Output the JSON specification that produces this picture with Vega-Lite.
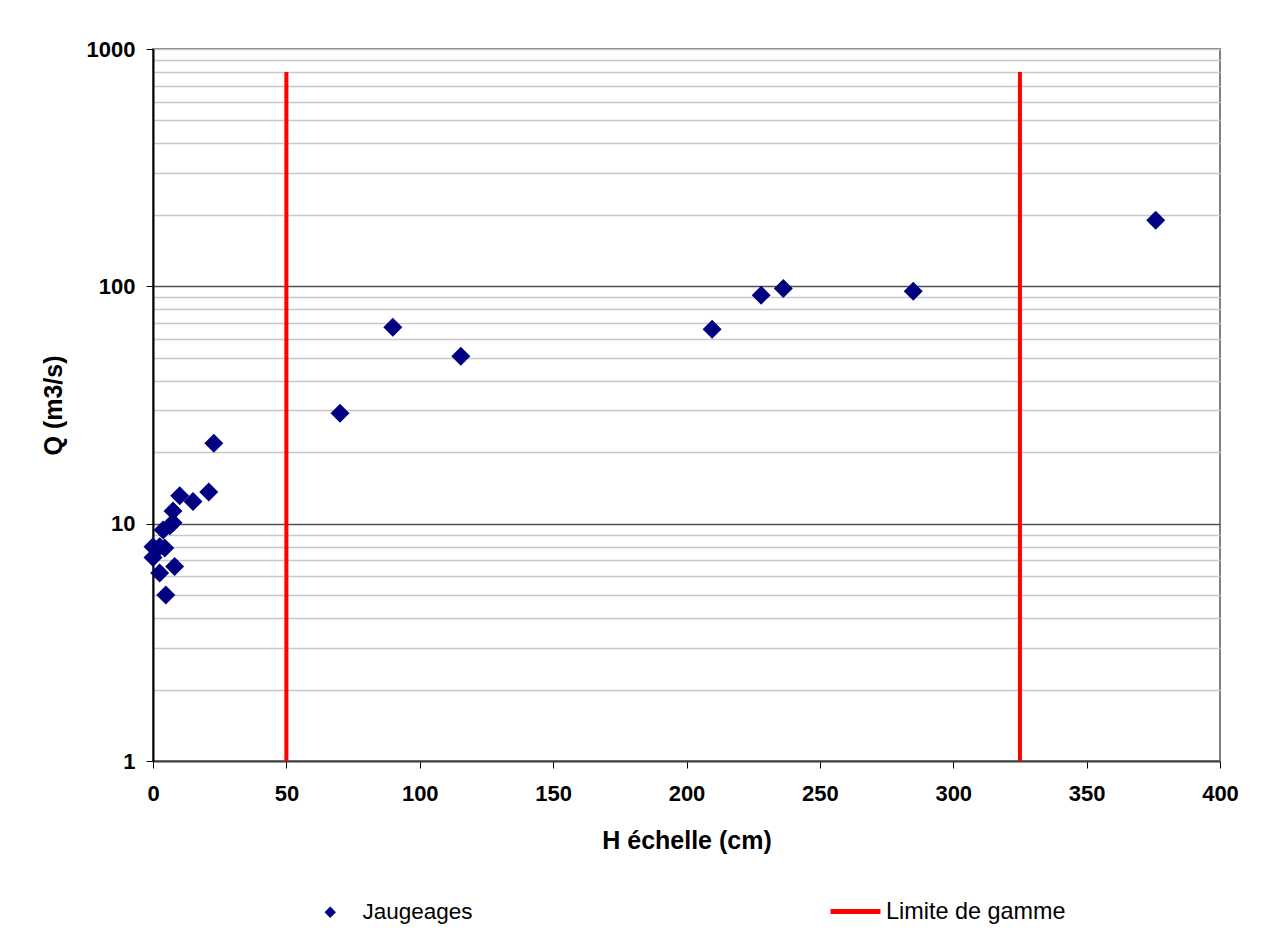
{
  "$schema": "https://vega.github.io/schema/vega-lite/v6.json",
  "autosize": "none",
  "width": 1067,
  "height": 712,
  "padding": {"left": 153, "top": 49, "right": 42, "bottom": 175},
  "background": "white",
  "config": {
    "font": "Liberation Sans",
    "view": {"stroke": "#808080", "strokeWidth": 2},
    "axis": {"labelFont": "Liberation Sans", "titleFont": "Liberation Sans"}
  },
  "datasets": {
    "jaugeages": [
      {"H": 0, "Q": 8.0, "serie": "Jaugeages"},
      {"H": 0, "Q": 7.2, "serie": "Jaugeages"},
      {"H": 2.5, "Q": 8.0, "serie": "Jaugeages"},
      {"H": 4.4, "Q": 7.9, "serie": "Jaugeages"},
      {"H": 2.5, "Q": 6.2, "serie": "Jaugeages"},
      {"H": 8.1, "Q": 6.6, "serie": "Jaugeages"},
      {"H": 4.8, "Q": 5.0, "serie": "Jaugeages"},
      {"H": 3.8, "Q": 9.4, "serie": "Jaugeages"},
      {"H": 6.3, "Q": 9.8, "serie": "Jaugeages"},
      {"H": 7.5, "Q": 10.1, "serie": "Jaugeages"},
      {"H": 7.5, "Q": 11.3, "serie": "Jaugeages"},
      {"H": 10.0, "Q": 13.1, "serie": "Jaugeages"},
      {"H": 15.0, "Q": 12.4, "serie": "Jaugeages"},
      {"H": 20.9, "Q": 13.6, "serie": "Jaugeages"},
      {"H": 22.8, "Q": 21.8, "serie": "Jaugeages"},
      {"H": 70.1, "Q": 29.2, "serie": "Jaugeages"},
      {"H": 89.9, "Q": 67.3, "serie": "Jaugeages"},
      {"H": 115.4, "Q": 50.8, "serie": "Jaugeages"},
      {"H": 209.6, "Q": 66, "serie": "Jaugeages"},
      {"H": 228, "Q": 91.8, "serie": "Jaugeages"},
      {"H": 236.3, "Q": 98, "serie": "Jaugeages"},
      {"H": 285, "Q": 95.4, "serie": "Jaugeages"},
      {"H": 375.9, "Q": 190, "serie": "Jaugeages"}
    ],
    "limites": [
      {"H": 50, "Qmin": 1, "Qmax": 800, "serie": "Limite de gamme"},
      {"H": 325, "Qmin": 1, "Qmax": 800, "serie": "Limite de gamme"}
    ]
  },
  "layer": [
    {
      "data": {"name": "limites"},
      "mark": {"type": "rule", "strokeWidth": 4},
      "encoding": {
        "x": {"field": "H", "type": "quantitative"},
        "y": {"field": "Qmin", "type": "quantitative"},
        "y2": {"field": "Qmax"},
        "stroke": {
          "field": "serie",
          "type": "nominal",
          "scale": {"domain": ["Limite de gamme"], "range": ["#ff0000"]},
          "legend": {
            "title": null,
            "orient": "none",
            "legendX": 675,
            "legendY": 835,
            "padding": 0,
            "symbolType": "stroke",
            "symbolSize": 2500,
            "symbolStrokeWidth": 5,
            "symbolOffset": 0,
            "labelOffset": 3,
            "labelFont": "Liberation Sans",
            "labelFontSize": 23.4,
            "labelColor": "black",
            "labelLimit": 400
          }
        }
      }
    },
    {
      "data": {"name": "jaugeages"},
      "mark": {"type": "point", "shape": "diamond", "filled": true, "size": 360, "opacity": 1},
      "encoding": {
        "x": {
          "field": "H",
          "type": "quantitative",
          "scale": {"domain": [0, 400], "nice": false, "zero": false},
          "axis": {
            "title": "H échelle (cm)",
            "values": [0, 50, 100, 150, 200, 250, 300, 350, 400],
            "grid": false,
            "domainColor": "#404040",
            "domainWidth": 2,
            "tickColor": "#000000",
            "tickSize": 7,
            "labelPadding": 15,
            "labelFontSize": 22,
            "labelFontWeight": "bold",
            "labelColor": "black",
            "titleFontSize": 25,
            "titleFontWeight": "bold",
            "titleColor": "black",
            "titlePadding": 24,
            "labelFlush": false
          }
        },
        "y": {
          "field": "Q",
          "type": "quantitative",
          "scale": {"type": "log", "domain": [1, 1000], "nice": false},
          "axis": {
            "title": "Q (m3/s)",
            "values": [1, 2, 3, 4, 5, 6, 7, 8, 9, 10, 20, 30, 40, 50, 60, 70, 80, 90, 100, 200, 300, 400, 500, 600, 700, 800, 900, 1000],
            "labelExpr": "(datum.value == 1 || datum.value == 10 || datum.value == 100 || datum.value == 1000) ? format(datum.value, 'd') : ''",
            "grid": true,
            "gridColor": {"condition": {"test": "datum.value == 10 || datum.value == 100", "value": "#505050"}, "value": "#c8c8c8"},
            "gridWidth": 1.3,
            "gridOpacity": 1,
            "tickColor": {"condition": {"test": "datum.value == 1 || datum.value == 10 || datum.value == 100 || datum.value == 1000", "value": "#000000"}, "value": "transparent"},
            "tickSize": 7,
            "domainColor": "#000000",
            "domainWidth": 2,
            "labelPadding": 11,
            "labelFontSize": 22,
            "labelFontWeight": "bold",
            "labelColor": "black",
            "labelFlush": false,
            "titleFontSize": 25,
            "titleFontWeight": "bold",
            "titleColor": "black",
            "titlePadding": 20
          }
        },
        "fill": {
          "field": "serie",
          "type": "nominal",
          "scale": {"domain": ["Jaugeages"], "range": ["#000080"]},
          "legend": {
            "title": null,
            "orient": "none",
            "legendX": 166,
            "legendY": 852,
            "padding": 0,
            "symbolType": "diamond",
            "symbolSize": 130,
            "symbolOffset": 0,
            "symbolStrokeWidth": 0,
            "labelOffset": 21,
            "labelFont": "Liberation Sans",
            "labelFontSize": 22.5,
            "labelColor": "black"
          }
        }
      }
    }
  ]
}
